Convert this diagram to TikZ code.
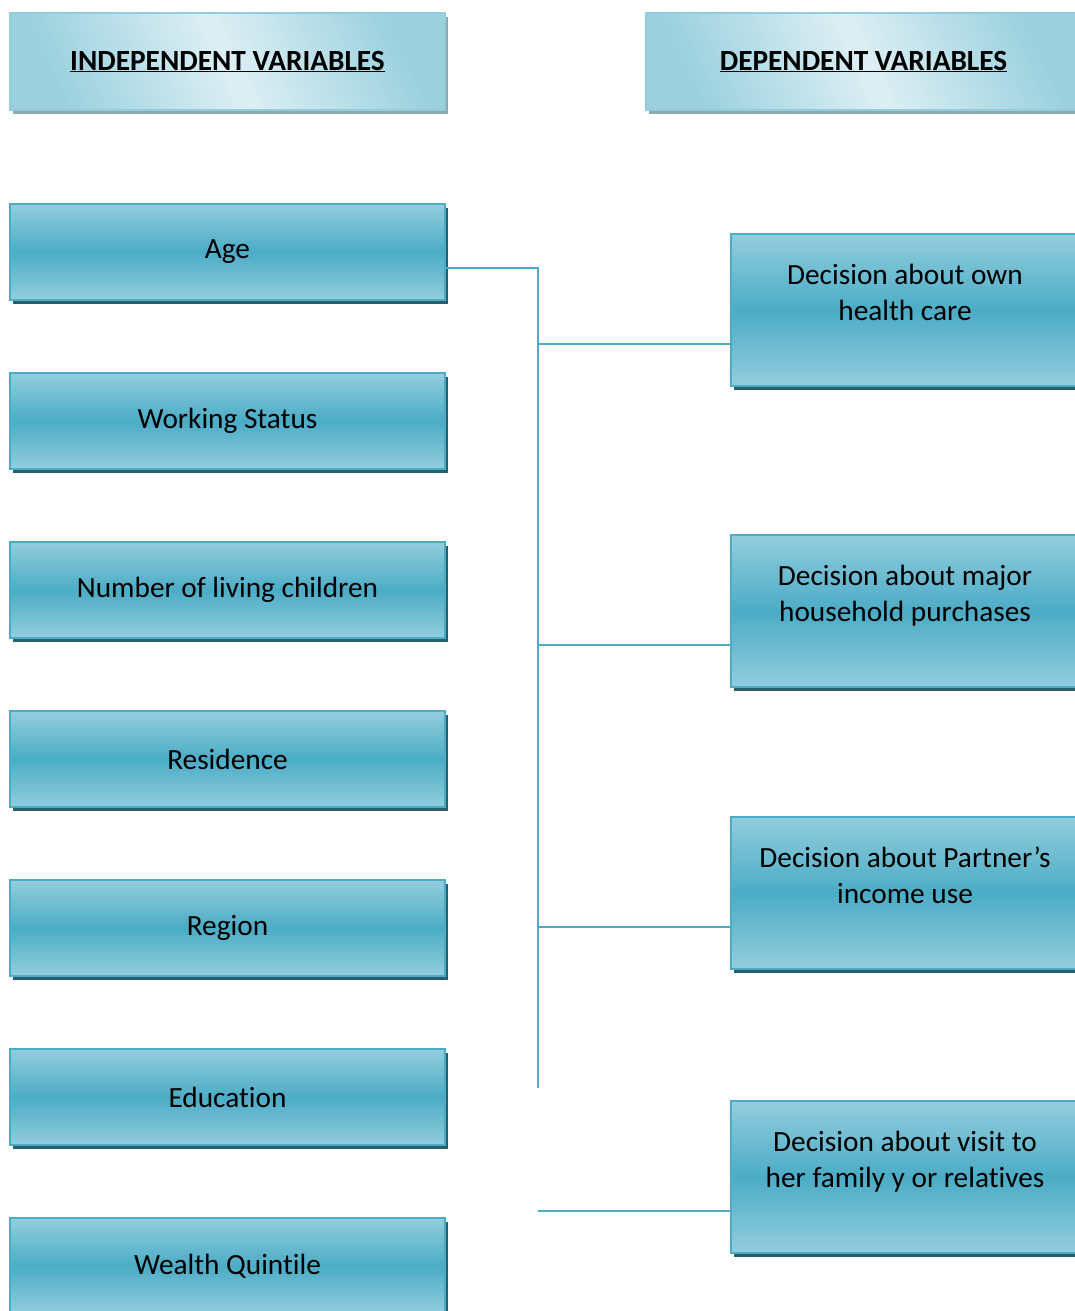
\documentclass[tikz,border=0pt]{standalone}
\usepackage{fontspec}
\setmainfont{Carlito}[Ligatures=NoCommon]
\usetikzlibrary{positioning}
\definecolor{boxedge}{HTML}{4BACC6}
\definecolor{boxdark}{HTML}{4BACC6}
\definecolor{boxlight}{HTML}{93CDDD}
\definecolor{boxshadow}{HTML}{285E6E}
\definecolor{headlight}{HTML}{DDEFF4}
\definecolor{headdark}{HTML}{9BD1DF}
\definecolor{headedge}{HTML}{93CDDD}
\definecolor{headshadow}{HTML}{8FA9B2}
\tikzset{
    %Define standard connector
    link/.style={
      draw=boxedge,
      line width=2pt},
    varbox/.style={
      rectangle,
      draw=boxedge, line width=2pt,
      top color=boxlight, bottom color=boxlight, middle color=boxdark,
      preaction={fill=boxshadow, transform canvas={shift={(3pt,-4pt)}}},
      font=\fontsize{29.3}{36}\selectfont,
      align=center,
      inner sep=0pt},
    indep/.style={
      varbox,
      minimum width=435pt,
      minimum height=96pt},
    dep/.style={
      varbox,
      minimum width=348pt,
      minimum height=152pt},
    heading/.style={
      rectangle,
      draw=headedge, line width=2pt,
      top color=headdark, bottom color=headdark, middle color=headlight,
      shading angle=-65,
      preaction={fill=headshadow, transform canvas={shift={(3pt,-4pt)}}},
      font=\fontsize{29.3}{36}\selectfont\bfseries,
      minimum width=435pt,
      minimum height=97pt},
}

\begin{document}
\begin{tikzpicture}[x=1pt, y=-1pt, node distance=169pt]
    \clip (0,0) rectangle (1075,1311);
    \node (indephead) [heading] at (227.5,61.5)
          {\underline{INDEPENDENT VARIABLES}};
    \node (dephead) [heading] at (863.5,61.5)
          {\underline{DEPENDENT VARIABLES}};

    \node (age) [indep] at (227.5,252)
          {Age};
    \node (work) [indep] [below of=age]
          {Working Status};
    \node (children) [indep] [below of=work]
          {Number of living children};
    \node (residence) [indep] [below of=children]
          {Residence};
    \node (region) [indep] [below of=residence]
          {Region};
    \node (education) [indep] [below of=region]
          {Education};
    \node (wealth) [indep] [below of=education]
          {Wealth Quintile};

    \node (health) [dep] at (905,310)
          {Decision about own\\health care\\[-12pt]\strut};
    \node (purchase) [dep] at (905,611)
          {Decision about major\\household purchases\\[-12pt]\strut};
    \node (income) [dep] at (905,892.5)
          {Decision about Partner’s\\income use\\[-12pt]\strut};
    \node (visit) [dep] at (905,1177)
          {Decision about visit to\\her family y or relatives\\[-12pt]\strut};

    \coordinate (trunk) at (538,1088);
    \draw [link] ([yshift=-16pt]age.east) -| (trunk);
    \foreach \n in {health,purchase,income,visit} {
      \coordinate (j\n) at ([yshift=-34pt]\n.west);
      \draw [link] (trunk |- j\n) -- (j\n);
    }
  \end{tikzpicture}
\end{document}
